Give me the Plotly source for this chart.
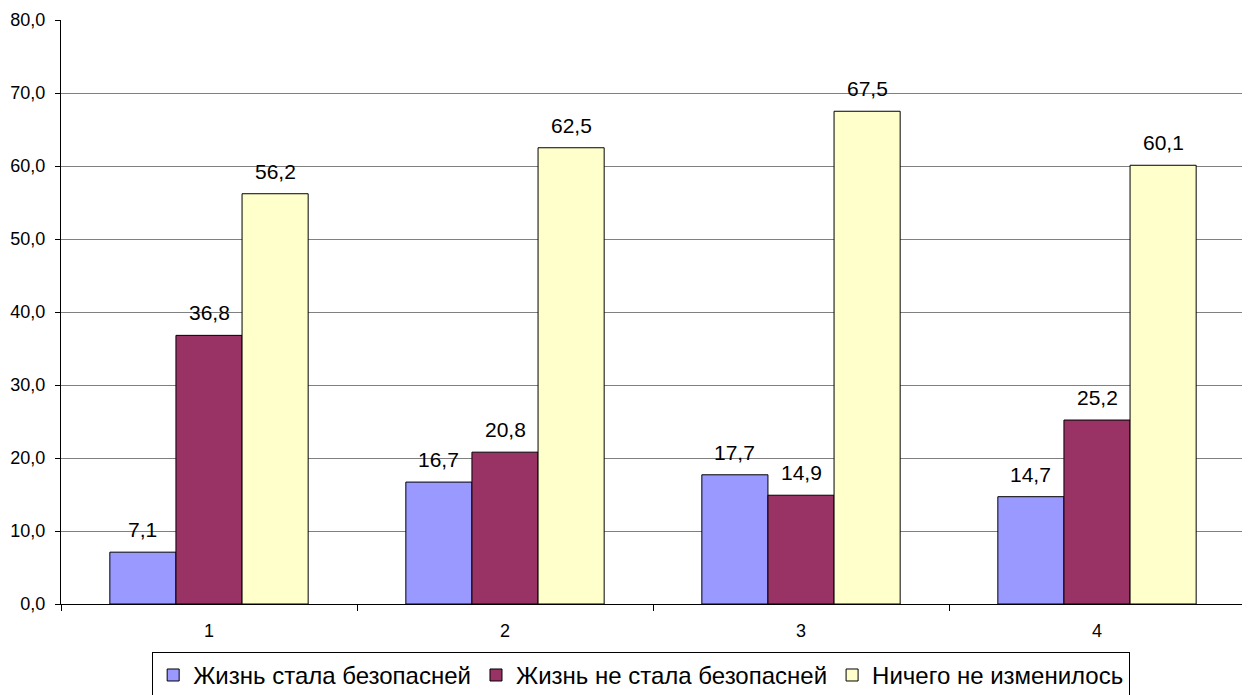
import plotly.graph_objects as go

categories = ["1", "2", "3", "4"]
series_names = ["Жизнь стала безопасней", "Жизнь не стала безопасней", "Ничего не изменилось"]
safer = [7.1, 16.7, 17.7, 14.7]
not_safer = [36.8, 20.8, 14.9, 25.2]
no_change = [56.2, 62.5, 67.5, 60.1]
colors = ["#9999FF", "#993366", "#FFFFCC"]
y_ticks = [0, 10, 20, 30, 40, 50, 60, 70, 80]

bargap = 0.33
all_series = [safer, not_safer, no_change]
n = len(all_series)
bar_w = (1 - bargap) / n

fig = go.Figure()
annotations = []
for k, (name, vals, col) in enumerate(zip(series_names, all_series, colors)):
    fig.add_trace(go.Bar(
        x=categories, y=vals, name=name,
        marker=dict(color=col, line=dict(color="#000000", width=1)),
    ))
    off = (k - (n - 1) / 2) * bar_w
    for i, v in enumerate(vals):
        annotations.append(dict(
            x=i + off, y=v, xref="x", yref="y",
            text=f"{v:.1f}".replace(".", ","), showarrow=False,
            yanchor="bottom", xanchor="center", yshift=9,
            font=dict(family="Arial", size=21, color="#000000"),
        ))

# category labels below the axis (category index positions)
for i, c in enumerate(categories):
    annotations.append(dict(
        x=i, y=0, xref="x", yref="paper", text=c, showarrow=False,
        yanchor="middle", xanchor="center", yshift=-27,
        font=dict(family="Arial", size=18, color="#000000"),
    ))

fig.update_layout(
    width=1250, height=695,
    margin=dict(l=53, r=13, t=12, b=99, autoexpand=False),
    paper_bgcolor="white", plot_bgcolor="white",
    separators=", ",
    barmode="group", bargap=bargap, bargroupgap=0,
    font=dict(family="Arial", color="#000000"),
    showlegend=True,
    legend=dict(orientation="h", x=0.49, xanchor="center", y=-0.082, yanchor="top",
                bordercolor="#000000", borderwidth=1,
                font=dict(family="Arial", size=24, color="#000000"),
                itemwidth=30, traceorder="normal"),
    annotations=annotations,
)
fig.update_xaxes(type="category", showline=True, linecolor="#000000", linewidth=1,
                 ticks="outside", tickson="boundaries", ticklen=6, tickcolor="#000000",
                 showticklabels=False,
                 showgrid=False, mirror=False)
fig.update_yaxes(range=[0, 80], tickvals=y_ticks, tickformat=".1f",
                 showline=True, linecolor="#000000", linewidth=1,
                 ticks="outside", ticklen=5, tickcolor="#000000",
                 tickfont=dict(family="Arial", size=18, color="#000000"),
                 ticklabelstandoff=6,
                 showgrid=True, gridcolor="#808080", gridwidth=1, zeroline=False)

fig.write_html("out.html")
